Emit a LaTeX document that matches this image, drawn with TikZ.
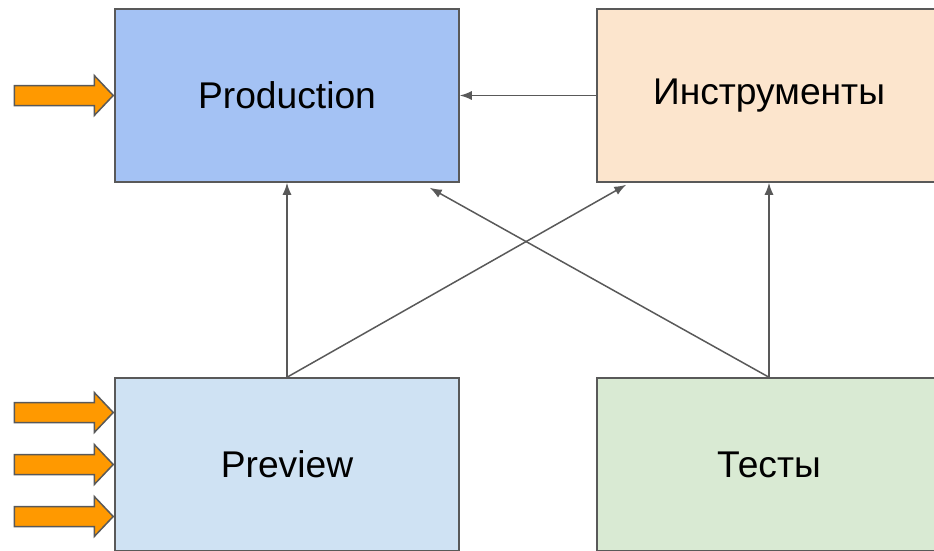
\documentclass[tikz,border=0pt]{standalone}
\usepackage{fontspec}
\setmainfont{Liberation Sans}
\usetikzlibrary{arrows.meta}
\definecolor{edge}{HTML}{595959}
\definecolor{prodfill}{HTML}{A4C2F4}
\definecolor{instrfill}{HTML}{FCE5CD}
\definecolor{prevfill}{HTML}{CFE2F3}
\definecolor{testfill}{HTML}{D9EAD3}
\definecolor{orangefill}{HTML}{FF9900}
\tikzset{
  box/.style={draw=edge, line width=1.5pt, rectangle, minimum width=344pt, minimum height=173pt,
    inner sep=0pt, font=\fontsize{37.2}{40}\selectfont},
  conn/.style={draw=edge, line width=1.5pt, -{Latex[length=12pt,width=9pt]}},
  inarr/.style={draw=edge, fill=orangefill, line width=1.5pt, line join=miter},
  inarrow/.pic={\path[inarr] (-99,-10) -- (-19,-10) -- (-19,-20) -- (0,0) -- (-19,20) -- (-19,10) -- (-99,10) -- cycle;}
}
\begin{document}
\begin{tikzpicture}[x=1pt,y=1pt]
\useasboundingbox (0,0) rectangle (934,-551);
\clip (0,0) rectangle (934,-551);
\node[box, fill=prodfill] (prod) at (287,-95.5) {\raisebox{-1pt}{Production}};
\node[box, fill=instrfill] (instr) at (769,-95.5) {\raisebox{-1pt}{Инструменты}};
\node[box, fill=prevfill] (prev) at (287,-464.5) {\raisebox{-1pt}{Preview}};
\node[box, fill=testfill] (tests) at (769,-464.5) {\raisebox{-1pt}{Тесты}};
\draw[conn] (instr.west) -- (prod.east);
\draw[conn] (prev.north) -- (prod.south);
\draw[conn] (tests.north) -- (instr.south);
\draw[conn] (prev.north) -- ([xshift=30pt,yshift=-2pt]instr.south west);
\draw[conn] (tests.north) -- ([xshift=-30pt,yshift=-5pt]prod.south east);
\pic at ([xshift=-1pt]prod.west) {inarrow};
\pic at ([xshift=-1pt,yshift=52pt]prev.west) {inarrow};
\pic at ([xshift=-1pt]prev.west) {inarrow};
\pic at ([xshift=-1pt,yshift=-52pt]prev.west) {inarrow};
\end{tikzpicture}
\end{document}
